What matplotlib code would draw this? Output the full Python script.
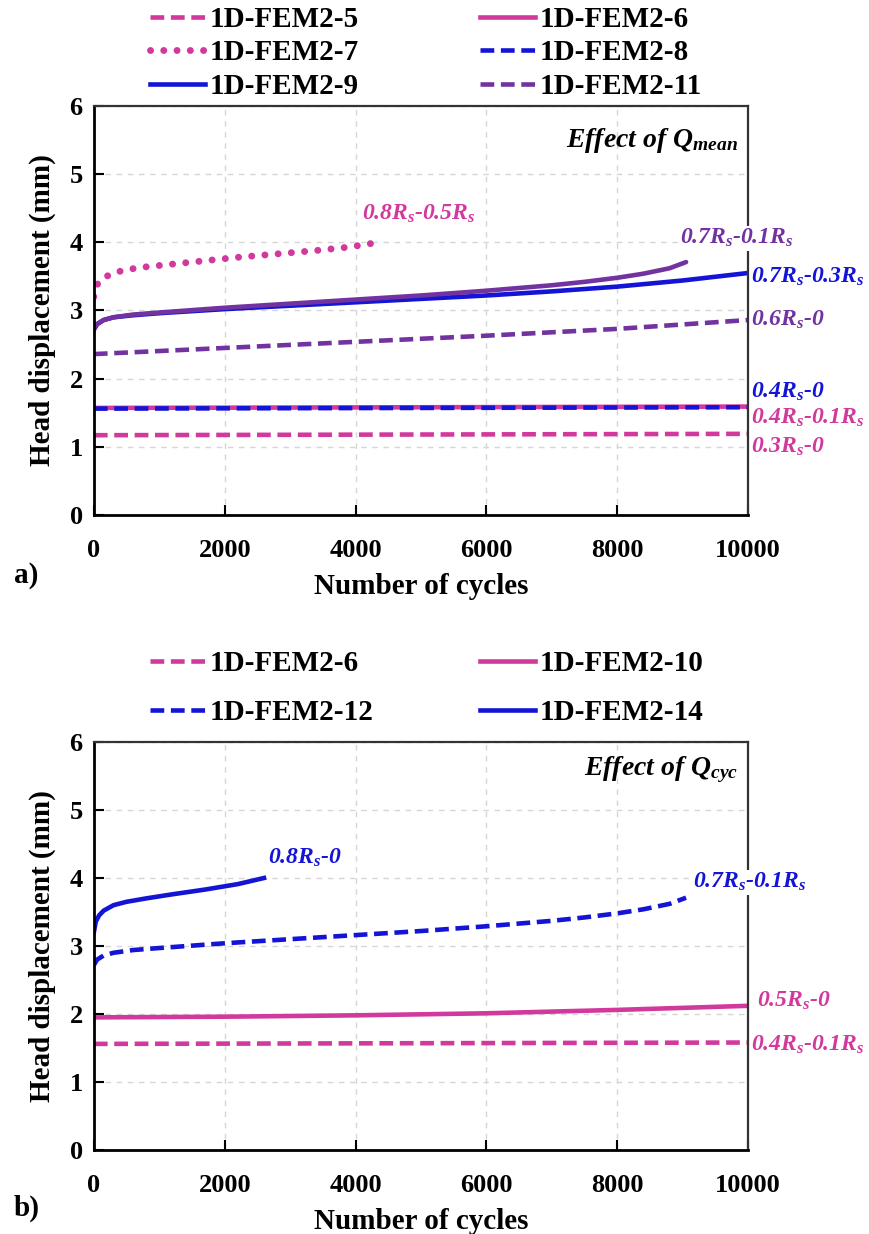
import matplotlib
matplotlib.use("Agg")
import matplotlib.pyplot as plt

plt.rcParams['font.family'] = ['Liberation Serif', 'DejaVu Serif']
plt.rcParams['font.weight'] = 'bold'
plt.rcParams['mathtext.fontset'] = 'custom'
plt.rcParams['mathtext.it'] = 'Liberation Serif:italic:bold'
plt.rcParams['mathtext.rm'] = 'Liberation Serif:italic:bold'
plt.rcParams['mathtext.bf'] = 'Liberation Serif:italic:bold'

MAG = '#D2399C'
BLU = '#1414D6'
PUR = '#7232A0'

# ---------------- Panel a data ----------------
a_fem5_x = [0, 10000]
a_fem5_y = [1.17, 1.19]
a_fem6_x = [0, 10000]
a_fem6_y = [1.57, 1.59]
a_fem7_x = [0, 50, 150, 300, 500, 800, 1200, 1700, 2200, 2800, 3400, 3900, 4350]
a_fem7_y = [3.2, 3.38, 3.48, 3.55, 3.6, 3.64, 3.68, 3.73, 3.78, 3.83, 3.88, 3.93, 4.0]
a_fem8_x = [0, 10000]
a_fem8_y = [1.56, 1.58]
a_fem9_x = [0, 50, 150, 300, 600, 1000, 2000, 3000, 4000, 5000, 6000, 7000, 8000, 9000, 10000]
a_fem9_y = [2.72, 2.8, 2.86, 2.9, 2.93, 2.96, 3.02, 3.07, 3.12, 3.17, 3.22, 3.28, 3.35, 3.44, 3.55]
a_fem11_x = [0, 2000, 4000, 6000, 8000, 10000]
a_fem11_y = [2.36, 2.45, 2.54, 2.63, 2.73, 2.86]
a_extra_x = [0, 50, 150, 300, 600, 1000, 2000, 3000, 4000, 5000, 6000, 7000, 7500, 8000, 8400, 8800, 9050]
a_extra_y = [2.72, 2.8, 2.86, 2.9, 2.94, 2.97, 3.04, 3.1, 3.16, 3.22, 3.29, 3.37, 3.42, 3.48, 3.54, 3.62, 3.71]

# ---------------- Panel b data ----------------
b_fem6_x = [0, 10000]
b_fem6_y = [1.56, 1.58]
b_fem10_x = [0, 2000, 4000, 6000, 8000, 10000]
b_fem10_y = [1.95, 1.96, 1.98, 2.01, 2.06, 2.12]
b_fem12_x = [0, 50, 150, 300, 600, 1000, 2000, 3000, 4000, 5000, 6000, 7000, 7500, 8000, 8400, 8800, 9050]
b_fem12_y = [2.72, 2.8, 2.86, 2.9, 2.94, 2.97, 3.04, 3.1, 3.16, 3.22, 3.29, 3.37, 3.42, 3.48, 3.54, 3.62, 3.71]
b_fem14_x = [0, 30, 80, 150, 300, 500, 800, 1200, 1700, 2200, 2600]
b_fem14_y = [3.2, 3.36, 3.45, 3.52, 3.6, 3.65, 3.7, 3.76, 3.83, 3.91, 4.0]

xticks = [0, 2000, 4000, 6000, 8000, 10000]
yticks = [0, 1, 2, 3, 4, 5, 6]

LW = 3.3
DASH = (3.0, 1.45)
DOT = (0.01, 1.9)

fig = plt.figure(figsize=(8.69, 12.34), dpi=100)
ax1 = fig.add_axes([0.108, 0.5827, 0.753, 0.3314])
ax2 = fig.add_axes([0.108, 0.0681, 0.753, 0.3306])


def style(ax):
    ax.set_xlim(0, 10000)
    ax.set_ylim(0, 6)
    ax.set_xticks(xticks)
    ax.set_yticks(yticks)
    ax.grid(True, color='#D6D6D6', linestyle=(0, (4, 4)), linewidth=1.0)
    ax.set_axisbelow(True)
    ax.tick_params(direction='in', length=7, width=1.5, labelsize=19, pad=8)
    ax.tick_params(axis='x', pad=17)
    for t in ax.get_xticklabels() + ax.get_yticklabels():
        t.set_fontweight('bold')
    for s in ['left', 'bottom']:
        ax.spines[s].set_linewidth(2.0)
        ax.spines[s].set_color('black')
    for s in ['right', 'top']:
        ax.spines[s].set_linewidth(1.6)
        ax.spines[s].set_color('#333333')
    ax.set_xlabel('Number of cycles', fontsize=21, fontweight='bold', labelpad=8)
    ax.set_ylabel('Head displacement (mm)', fontsize=21, fontweight='bold', labelpad=10)


def lab(ax, x, y, s, c, ha='left', va='center', bg=False):
    kw = dict(color=c, fontsize=17, fontweight='bold', fontstyle='italic',
              ha=ha, va=va, clip_on=False, zorder=10)
    if bg:
        kw['bbox'] = dict(facecolor='white', edgecolor='none', pad=1)
    ax.text(x, y, s, **kw)


# ---------------- Panel a ----------------
h5, = ax1.plot(a_fem5_x, a_fem5_y, color=MAG, lw=LW, linestyle=(0, DASH), label='1D-FEM2-5')
h6, = ax1.plot(a_fem6_x, a_fem6_y, color=MAG, lw=LW, label='1D-FEM2-6')
h7, = ax1.plot(a_fem7_x, a_fem7_y, color=MAG, lw=5.0, linestyle=(0, DOT),
               dash_capstyle='round', label='1D-FEM2-7')
h8, = ax1.plot(a_fem8_x, a_fem8_y, color=BLU, lw=LW, linestyle=(0, DASH), label='1D-FEM2-8')
h11, = ax1.plot(a_fem11_x, a_fem11_y, color=PUR, lw=LW, linestyle=(0, DASH), label='1D-FEM2-11')
h9, = ax1.plot(a_fem9_x, a_fem9_y, color=BLU, lw=LW, label='1D-FEM2-9')
ax1.plot(a_extra_x, a_extra_y, color=PUR, lw=LW, solid_capstyle='round')
style(ax1)

lab(ax1, 4100, 4.42, '0.8$R_s$-0.5$R_s$', MAG)
lab(ax1, 8960, 4.06, '0.7$R_s$-0.1$R_s$', PUR, bg=True)
lab(ax1, 10050, 3.5, '0.7$R_s$-0.3$R_s$', BLU)
lab(ax1, 10050, 2.86, '0.6$R_s$-0', PUR)
lab(ax1, 10050, 1.80, '0.4$R_s$-0', BLU)
lab(ax1, 10050, 1.42, '0.4$R_s$-0.1$R_s$', MAG)
lab(ax1, 10050, 1.0, '0.3$R_s$-0', MAG)
ax1.text(9850, 5.5, 'Effect of $Q_{mean}$', color='black', fontsize=20, fontweight='bold',
         fontstyle='italic', ha='right', va='center')

legkw = dict(frameon=False, fontsize=21, handlelength=1.9, handletextpad=0.15,
             borderaxespad=0, borderpad=0, labelspacing=0.22)
lg1 = fig.legend(handles=[h5, h7, h9], loc='upper left', bbox_to_anchor=(150 / 869, 1 - 6 / 1234), **legkw)
lg2 = fig.legend(handles=[h6, h8, h11], loc='upper left', bbox_to_anchor=(480 / 869, 1 - 6 / 1234), **legkw)
for lg in (lg1, lg2):
    for t in lg.get_texts():
        t.set_fontweight('bold')

fig.text(14 / 869, 1 - 575 / 1234, 'a)', fontsize=21, fontweight='bold', va='center')

# ---------------- Panel b ----------------
g6, = ax2.plot(b_fem6_x, b_fem6_y, color=MAG, lw=LW, linestyle=(0, DASH), label='1D-FEM2-6')
g10, = ax2.plot(b_fem10_x, b_fem10_y, color=MAG, lw=LW, label='1D-FEM2-10')
g12, = ax2.plot(b_fem12_x, b_fem12_y, color=BLU, lw=LW, linestyle=(0, DASH), label='1D-FEM2-12')
g14, = ax2.plot(b_fem14_x, b_fem14_y, color=BLU, lw=LW, label='1D-FEM2-14')
style(ax2)

lab(ax2, 2660, 4.29, '0.8$R_s$-0', BLU)
lab(ax2, 9160, 3.94, '0.7$R_s$-0.1$R_s$', BLU, bg=True)
lab(ax2, 10140, 2.2, '0.5$R_s$-0', MAG)
lab(ax2, 10050, 1.54, '0.4$R_s$-0.1$R_s$', MAG)
ax2.text(9850, 5.59, 'Effect of $Q_{cyc}$', color='black', fontsize=20, fontweight='bold',
         fontstyle='italic', ha='right', va='center')

legkw2 = dict(legkw)
legkw2['labelspacing'] = 0.75
lg3 = fig.legend(handles=[g6, g12], loc='upper left', bbox_to_anchor=(150 / 869, 1 - 650 / 1234), **legkw2)
lg4 = fig.legend(handles=[g10, g14], loc='upper left', bbox_to_anchor=(480 / 869, 1 - 650 / 1234), **legkw2)
for lg in (lg3, lg4):
    for t in lg.get_texts():
        t.set_fontweight('bold')

fig.text(14 / 869, 1 - 1208 / 1234, 'b)', fontsize=21, fontweight='bold', va='center')

fig.savefig('out.png', dpi=100)
